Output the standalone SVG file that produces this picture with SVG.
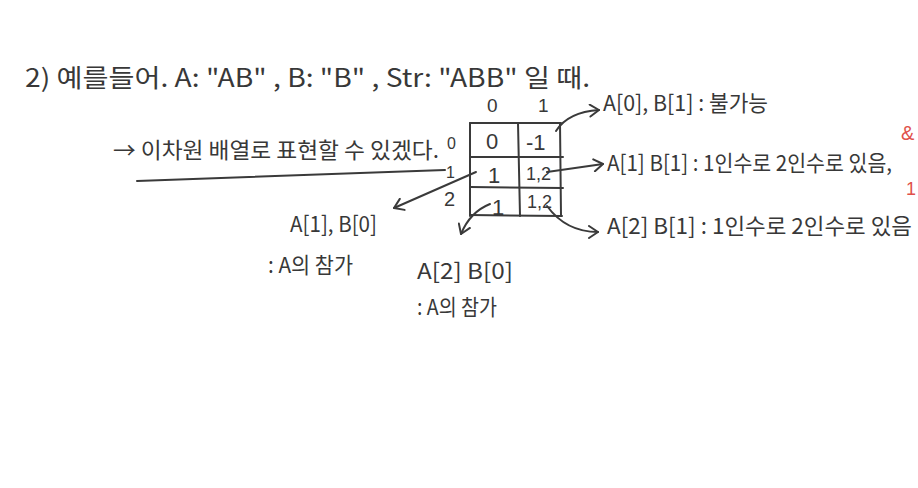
<svg xmlns="http://www.w3.org/2000/svg" width="918" height="488" viewBox="0 0 918 488">
<style>
  text { font-family: "Noto Sans CJK KR", "DejaVu Sans", sans-serif; fill: #383838; }
  .t { font-size: 22px; }
  .n { font-family: "Liberation Sans", "DejaVu Sans", sans-serif; }
  .ln { stroke: #3a3a3a; stroke-width: 2; fill: none; stroke-linecap: round; }
  .red { fill: #e0504a; font-family: "Liberation Sans", sans-serif; }
</style>
<defs>
  <marker id="head" markerWidth="14" markerHeight="14" refX="11" refY="7" orient="auto" markerUnits="userSpaceOnUse">
    <path d="M2,1 L11,7 L2,13" fill="none" stroke="#3a3a3a" stroke-width="2" stroke-linecap="round" stroke-linejoin="round"/>
  </marker>
</defs>
<rect width="918" height="488" fill="#ffffff"/>

<g id="title">
  <text x="25" y="87" style="font-size:25px" textLength="565" lengthAdjust="spacingAndGlyphs">2) 예를들어.  A: "AB" , B: "B" , Str: "ABB" 일 때.</text>
</g>

<g id="note">
  <text x="113" y="158" class="t" textLength="326" lengthAdjust="spacingAndGlyphs">→ 이차원 배열로 표현할 수 있겠다.</text>
  <line class="ln" x1="137" y1="181" x2="445" y2="170"/>
</g>

<g id="grid">
  <line class="ln" x1="470" y1="123" x2="470" y2="216"/>
  <line class="ln" x1="518" y1="123" x2="520" y2="216"/>
  <line class="ln" x1="560" y1="123" x2="561" y2="216"/>
  <line class="ln" x1="470" y1="123" x2="561" y2="123"/>
  <line class="ln" x1="470" y1="157" x2="563" y2="157"/>
  <line class="ln" x1="470" y1="187" x2="563" y2="188"/>
  <line class="ln" x1="470" y1="215" x2="562" y2="216"/>
  <text x="487" y="112" class="n" style="font-size:19px">0</text>
  <text x="538" y="112" class="n" style="font-size:19px">1</text>
  <text x="447" y="149" class="n" style="font-size:16px">0</text>
  <text x="446" y="178" class="n" style="font-size:16px">1</text>
  <text x="444" y="206" class="n" style="font-size:20px">2</text>
  <text x="486" y="149" class="n" style="font-size:22px">0</text>
  <text x="526" y="150" class="n" style="font-size:22px">-1</text>
  <text x="488" y="183" class="n" style="font-size:22px">1</text>
  <text x="526" y="180" class="n" style="font-size:18px">1,2</text>
  <text x="492" y="215" class="n" style="font-size:22px">1</text>
  <text x="527" y="208" class="n" style="font-size:18px">1,2</text>
</g>

<g id="n-a0b1">
  <text x="603" y="111" class="t" textLength="165" lengthAdjust="spacingAndGlyphs">A[0], B[1] : 불가능</text>
</g>
<g id="n-a1b1">
  <text x="607" y="171" class="t" textLength="285" lengthAdjust="spacingAndGlyphs">A[1] B[1] : 1인수로 2인수로 있음,</text>
</g>
<g id="n-a2b1">
  <text x="607" y="234" class="t" textLength="305" lengthAdjust="spacingAndGlyphs">A[2] B[1] : 1인수로 2인수로 있음</text>
</g>
<g id="n-a1b0">
  <text x="290" y="232" class="t" textLength="87" lengthAdjust="spacingAndGlyphs">A[1], B[0]</text>
  <text x="268" y="273" class="t" textLength="85" lengthAdjust="spacingAndGlyphs">: A의 참가</text>
</g>
<g id="n-a2b0">
  <text x="417" y="279" class="t" textLength="96" lengthAdjust="spacingAndGlyphs">A[2] B[0]</text>
  <text x="417" y="315" class="t" textLength="80" lengthAdjust="spacingAndGlyphs">: A의 참가</text>
</g>
<g id="red-marks">
  <text x="901" y="140" class="red" style="font-size:20px">&amp;</text>
  <text x="906" y="195" class="red" style="font-size:18px">1</text>
</g>

<g id="connectors">
  <path class="ln" d="M556,131 Q568,112 599,110" marker-end="url(#head)"/>
  <path class="ln" d="M547,172 L603,164" marker-end="url(#head)"/>
  <path class="ln" d="M547,206 Q566,232 598,232" marker-end="url(#head)"/>
  <path class="ln" d="M476,172 L394,208" marker-end="url(#head)"/>
  <path class="ln" d="M490,204 Q470,212 461,234" marker-end="url(#head)"/>
</g>
</svg>
